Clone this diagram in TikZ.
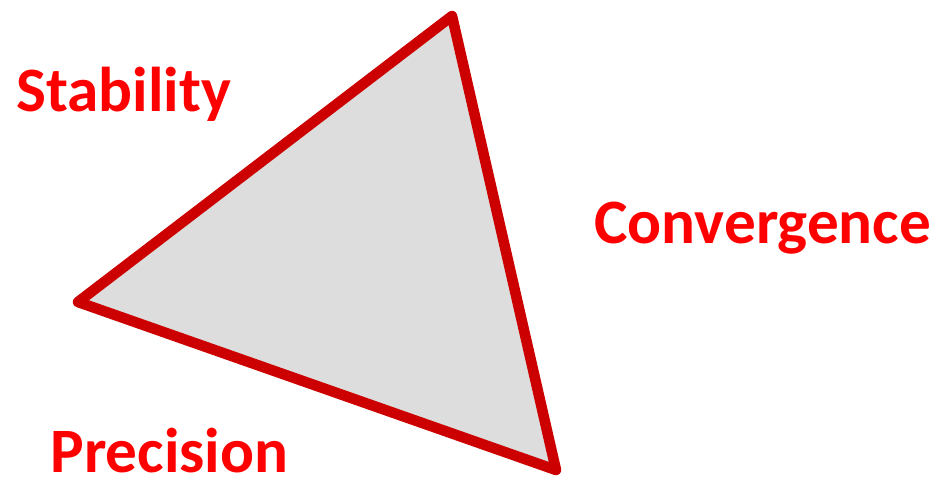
\documentclass[tikz,border=0pt]{standalone}
\usepackage{fontspec}
\setmainfont{Carlito}
\usetikzlibrary{positioning}
\definecolor{edgeRed}{HTML}{CC0000}
\definecolor{labelRed}{HTML}{FF0000}
\definecolor{triFill}{HTML}{DDDDDD}
\tikzset{
  triedge/.style={draw=edgeRed, fill=triFill, line width=6pt, line join=round},
  proplabel/.style={font=\fontsize{36}{40}\selectfont\bfseries, text=labelRed,
    anchor=base west, inner sep=0pt},
}
\begin{document}
\begin{tikzpicture}[x=0.02cm, y=-0.02cm]
    \useasboundingbox (0,0) rectangle (935,480);
    \coordinate (top) at (452,16);
    \coordinate (left) at (78,302);
    \coordinate (bottom) at (556,470);
    \draw[triedge] (top) -- (left) -- (bottom) -- cycle;
    \node[proplabel] (stab) at (16,111) {Stability};
    \node[proplabel] (conv) at (594,243) {Convergence};
    \node[proplabel] (prec) at (50,472) {Precision};
  \end{tikzpicture}
\end{document}
